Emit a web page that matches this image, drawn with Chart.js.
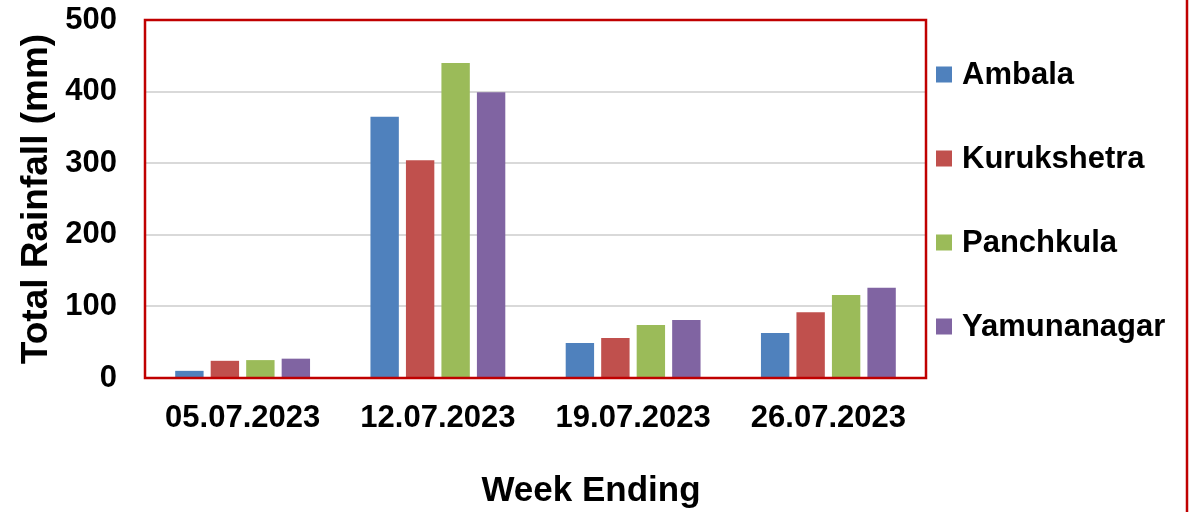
<!DOCTYPE html>
<html lang="en">
<head>
<meta charset="UTF-8">
<title>Total Rainfall by Week</title>
<script src="https://cdn.jsdelivr.net/npm/chart.js"></script>
<style>
    html, body { margin: 0; padding: 0; background: #fff; }
    .grafico { width: 1191px; height: 512px; }
</style>
</head>
<body>
<div class="grafico"><canvas id="graficoChuva"></canvas></div>
<script>
    // dados
    const semanas = ["05.07.2023", "12.07.2023", "19.07.2023", "26.07.2023"];
    const ambala = [10, 365, 49, 63];
    const kurukshetra = [24, 304, 56, 92];
    const panchkula = [25, 440, 74, 116];
    const yamunanagar = [27, 399, 81, 126];
    const ticksY = [0, 100, 200, 300, 400, 500];

    const fonte = "'Liberation Sans', Arial, sans-serif";
    const vermelho = "#c00000";

    // borda vermelha da área do gráfico, legenda, título do eixo x e linha da direita
    const molduraPlugin = {
        id: 'moldura',
        afterDraw(chart) {
            const { ctx, chartArea: a } = chart;
            ctx.save();
            ctx.strokeStyle = vermelho;
            ctx.lineWidth = 2.5;
            ctx.strokeRect(a.left, a.top, a.right - a.left, a.bottom - a.top);
            ctx.beginPath();
            ctx.moveTo(1187, 0);
            ctx.lineTo(1187, chart.height);
            ctx.stroke();

            ctx.font = "bold 31px " + fonte;
            ctx.textBaseline = 'middle';
            ctx.textAlign = 'left';
            chart.data.datasets.forEach((ds, i) => {
                const yc = 74.5 + 84 * i;
                ctx.fillStyle = ds.backgroundColor;
                ctx.fillRect(936, yc - 8, 16, 16);
                ctx.fillStyle = '#000';
                ctx.fillText(ds.label, 962, yc + 1);
            });

            ctx.font = "bold 35px " + fonte;
            ctx.textAlign = 'center';
            ctx.fillText('Week Ending', 591, 491);
            ctx.restore();
        }
    };

    new Chart(document.getElementById('graficoChuva'), {
        type: 'bar',
        data: {
            labels: semanas,
            datasets: [
                { label: 'Ambala', data: ambala, backgroundColor: '#4f81bd' },
                { label: 'Kurukshetra', data: kurukshetra, backgroundColor: '#c0504d' },
                { label: 'Panchkula', data: panchkula, backgroundColor: '#9bbb59' },
                { label: 'Yamunanagar', data: yamunanagar, backgroundColor: '#8064a2' }
            ]
        },
        options: {
            responsive: true,
            maintainAspectRatio: false,
            animation: false,
            categoryPercentage: 0.727,
            barPercentage: 0.8,
            layout: { padding: { top: 20, right: 265, left: 0, bottom: 0 } },
            plugins: {
                legend: { display: false },
                tooltip: { enabled: false }
            },
            scales: {
                x: {
                    grid: { display: false, drawTicks: false },
                    border: { display: false },
                    ticks: {
                        color: '#000',
                        padding: 22,
                        maxRotation: 0,
                        font: { family: fonte, size: 31, weight: 'bold' }
                    },
                    afterFit(scale) { scale.height = 134; scale.paddingLeft = 0; scale.paddingRight = 0; }
                },
                y: {
                    min: 0,
                    max: 500,
                    afterBuildTicks(scale) { scale.ticks = ticksY.map(v => ({ value: v })); },
                    grid: {
                        drawTicks: false,
                        color: ctx => (ctx.tick.value === 0 || ctx.tick.value === 500) ? 'rgba(0,0,0,0)' : '#d9d9d9',
                        lineWidth: 2
                    },
                    border: { display: false },
                    ticks: {
                        color: '#000',
                        padding: 28,
                        font: { family: fonte, size: 31, weight: 'bold' }
                    },
                    title: {
                        display: true,
                        text: 'Total Rainfall (mm)',
                        color: '#000',
                        padding: { top: 15, bottom: 0 },
                        font: { family: fonte, size: 37, weight: 'bold' }
                    },
                    afterFit(scale) { scale.width = 145; scale.paddingTop = 0; scale.paddingBottom = 0; }
                }
            }
        },
        plugins: [molduraPlugin]
    });
</script>
</body>
</html>
